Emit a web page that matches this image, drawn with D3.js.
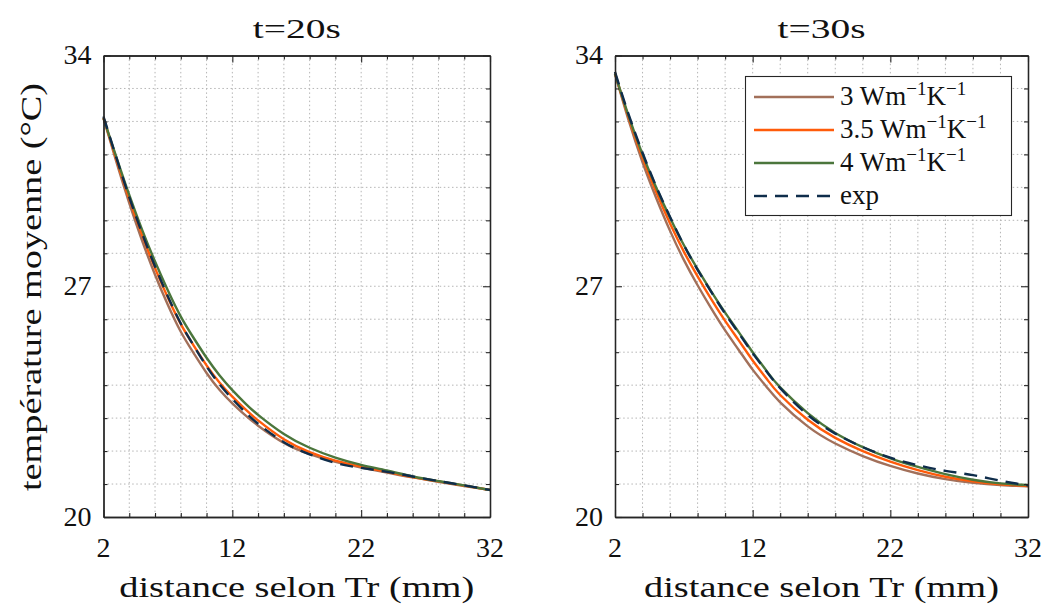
<!DOCTYPE html>
<html><head><meta charset="utf-8">
<script src="https://cdn.jsdelivr.net/npm/d3@7"></script>
<style>body{margin:0;background:#fff} svg{display:block} text{font-family:"Liberation Serif","Times New Roman",Times,serif;}</style>
</head><body><svg id="c" width="1046" height="608"></svg>
<script>
// ---- data ----
const distance = [2,3,4,5,6,7,8,9,10,11,12,13,14,16,18,20,22,24,26,28,30,32];
// t = 20 s
const t20_k3  = [32.10,30.77,29.52,28.38,27.35,26.43,25.62,24.97,24.37,23.86,23.45,23.09,22.77,22.25,21.91,21.67,21.50,21.35,21.20,21.07,20.94,20.82];
const t20_k35 = [32.10,30.85,29.65,28.55,27.55,26.65,25.85,25.20,24.60,24.08,23.65,23.27,22.93,22.36,21.97,21.71,21.53,21.37,21.21,21.08,20.95,20.82];
const t20_k4  = [32.10,30.92,29.77,28.71,27.75,26.87,26.08,25.43,24.83,24.30,23.85,23.45,23.10,22.52,22.10,21.80,21.58,21.41,21.23,21.09,20.96,20.82];
const t20_exp = [32.15,30.90,29.70,28.60,27.60,26.69,25.87,25.20,24.57,24.03,23.58,23.18,22.83,22.27,21.90,21.64,21.49,21.37,21.23,21.09,20.96,20.82];
// t = 30 s
const t30_k3  = [33.45,32.02,30.76,29.67,28.68,27.80,27.03,26.32,25.66,25.06,24.47,23.95,23.48,22.75,22.23,21.85,21.55,21.32,21.15,21.04,20.97,20.93];
const t30_k35 = [33.45,32.10,30.90,29.85,28.90,28.05,27.30,26.60,25.95,25.35,24.75,24.20,23.70,22.95,22.40,22.00,21.68,21.42,21.22,21.08,20.99,20.94];
const t30_k4  = [33.45,32.15,31.00,29.99,29.08,28.25,27.52,26.84,26.20,25.60,25.00,24.44,23.93,23.15,22.55,22.12,21.78,21.52,21.30,21.13,21.02,20.97];
const t30_exp = [33.50,32.20,31.05,30.02,29.10,28.25,27.50,26.82,26.17,25.57,24.97,24.42,23.91,23.10,22.53,22.12,21.80,21.57,21.40,21.27,21.10,20.96];

const panelTitles = ["t=20s", "t=30s"];
const xTicks = [2, 12, 22, 32];
const yTicks = [20, 27, 34];
const xMinor = [4,6,8,10,14,16,18,20,24,26,28,30];
const yMinor = [21,22,23,24,25,26,28,29,30,31,32,33];
const seriesK = ["3", "3.5", "4"];
const expName = "exp";
const xLabel = "distance selon Tr (mm)";
const yLabel = "température moyenne (°C)";

// ---- style ----
const colors = ["#A2705A", "#FF5B0A", "#4B763C", "#0F2D4B"];
const svg = d3.select("#c");

const panels = [
  {x0: 103.5, x1: 490, series: [t20_k3, t20_k35, t20_k4, t20_exp], title: panelTitles[0]},
  {x0: 615, x1: 1028, series: [t30_k3, t30_k35, t30_k4, t30_exp], title: panelTitles[1]}
];
const yTop = 55.5, yBot = 517;

panels.forEach((p, pi) => {
  const x = d3.scaleLinear().domain([2, 32]).range([p.x0, p.x1]);
  const y = d3.scaleLinear().domain([20, 34]).range([yBot, yTop]);
  const g = svg.append("g");

  // grid
  const gridX = xTicks.concat(xMinor).filter(v => v > 2 && v < 32);
  const gridY = yTicks.concat(yMinor).filter(v => v > 20 && v < 34);
  g.selectAll(".gx").data(gridX).join("line")
    .attr("x1", d => x(d)).attr("x2", d => x(d)).attr("y1", yTop).attr("y2", yBot)
    .attr("stroke", "#b5b5b5").attr("stroke-width", 1).attr("stroke-dasharray", "1.5,2.6");
  g.selectAll(".gy").data(gridY).join("line")
    .attr("y1", d => y(d)).attr("y2", d => y(d)).attr("x1", p.x0).attr("x2", p.x1)
    .attr("stroke", "#b5b5b5").attr("stroke-width", 1).attr("stroke-dasharray", "1.5,2.6");

  // curves
  const line = d3.line().x((d, i) => x(distance[i])).y(d => y(d)).curve(d3.curveNatural);
  p.series.forEach((s, si) => {
    g.append("path").datum(s).attr("d", line).attr("fill", "none")
      .attr("stroke", colors[si]).attr("stroke-width", 2.4)
      .attr("stroke-dasharray", si === 3 ? "13,8" : null)
      .attr("stroke-linejoin", "round");
  });

  // axes (inner ticks, mirrored)
  const mk = (fn, vals, len) => fn(x).tickValues(vals).tickSizeInner(-len).tickSizeOuter(0).tickFormat("");
  const mky = (fn, vals, len) => fn(y).tickValues(vals).tickSizeInner(-len).tickSizeOuter(0).tickFormat("");
  [[mk(d3.axisBottom, xTicks, 7), `translate(0,${yBot})`], [mk(d3.axisBottom, xMinor, 4), `translate(0,${yBot})`],
   [mk(d3.axisTop, xTicks, 7), `translate(0,${yTop})`], [mk(d3.axisTop, xMinor, 4), `translate(0,${yTop})`],
   [mky(d3.axisLeft, yTicks, 7), `translate(${p.x0},0)`], [mky(d3.axisLeft, yMinor, 4), `translate(${p.x0},0)`],
   [mky(d3.axisRight, yTicks, 7), `translate(${p.x1},0)`], [mky(d3.axisRight, yMinor, 4), `translate(${p.x1},0)`]
  ].forEach(([ax, tr]) => {
    const a = g.append("g").attr("transform", tr).call(ax);
    a.selectAll("path").attr("stroke", "#262626").attr("stroke-width", 1.3);
    a.selectAll("line").attr("stroke", "#262626").attr("stroke-width", 1.1);
  });

  // tick labels
  g.selectAll(".xl").data(xTicks).join("text")
    .attr("x", d => x(d)).attr("y", 556.5).attr("text-anchor", "middle")
    .attr("font-size", 28).attr("fill", "#111").text(d => d);
  g.selectAll(".yl").data(yTicks).join("text")
    .attr("x", p.x0 - 12).attr("y", d => y(d) + 8.5).attr("text-anchor", "end")
    .attr("font-size", 28).attr("fill", "#111").text(d => d);

  // title
  g.append("text").attr("x", (p.x0 + p.x1) / 2).attr("y", 38).attr("text-anchor", "middle")
    .attr("font-size", 28).attr("fill", "#111")
    .attr("textLength", 88).attr("lengthAdjust", "spacingAndGlyphs").text(p.title);

  // x label
  g.append("text").attr("x", (p.x0 + p.x1) / 2).attr("y", 597).attr("text-anchor", "middle")
    .attr("font-size", 29).attr("fill", "#111")
    .attr("textLength", 355).attr("lengthAdjust", "spacingAndGlyphs").text(xLabel);

  if (pi === 0) {
    g.append("text").attr("transform", "translate(41,287) rotate(-90)").attr("text-anchor", "middle")
      .attr("font-size", 29).attr("fill", "#111")
      .attr("textLength", 408).attr("lengthAdjust", "spacingAndGlyphs").text(yLabel);
  }

  // legend
  if (pi === 1) {
    const lg = svg.append("g");
    lg.append("rect").attr("x", 745.5).attr("y", 76.5).attr("width", 266).attr("height", 139)
      .attr("fill", "#fff").attr("stroke", "#262626").attr("stroke-width", 1.1);
    const rowsY = [97, 130, 163, 196];
    const names = seriesK.concat([expName]);
    names.forEach((nm, i) => {
      lg.append("line").attr("x1", 754).attr("x2", 834).attr("y1", rowsY[i]).attr("y2", rowsY[i])
        .attr("stroke", colors[i]).attr("stroke-width", 2.4)
        .attr("stroke-dasharray", i === 3 ? "13,8" : null);
      const t = lg.append("text").attr("x", 840).attr("y", rowsY[i] + 8)
        .attr("font-size", 27).attr("fill", "#111");
      if (i < 3) {
        t.append("tspan").text(nm + " Wm");
        t.append("tspan").attr("font-size", 19).attr("dy", -10).text("−1");
        t.append("tspan").attr("dy", 10).text("K");
        t.append("tspan").attr("font-size", 19).attr("dy", -10).text("−1");
      } else {
        t.text(nm);
      }
    });
  }
});
</script></body></html>
